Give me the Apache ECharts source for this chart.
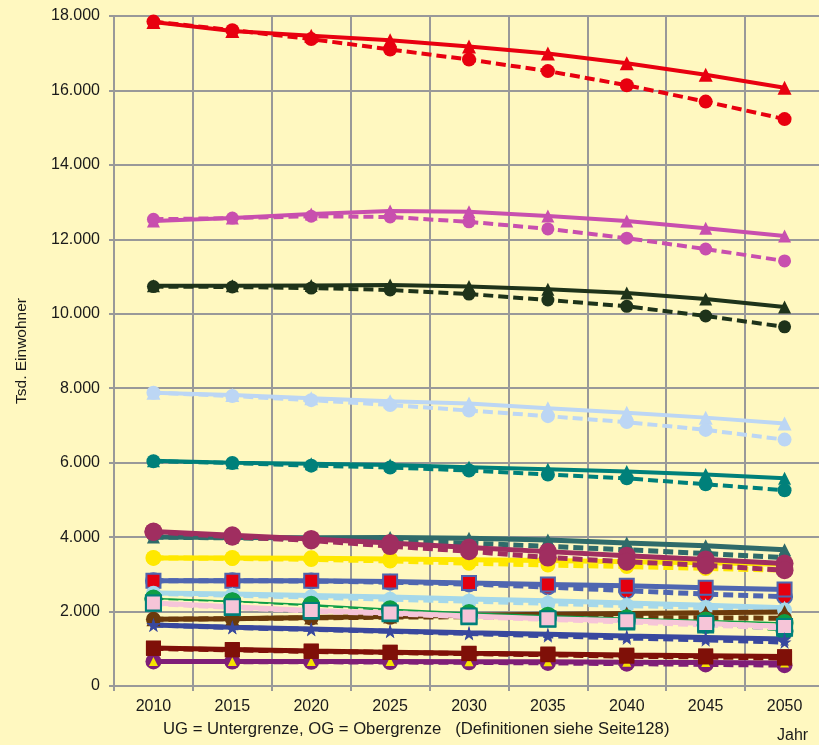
<!DOCTYPE html>
<html>
<head>
<meta charset="utf-8">
<script src="https://cdn.jsdelivr.net/npm/echarts@6/dist/echarts.min.js"></script>
<style>
  html, body { margin: 0; padding: 0; overflow: hidden; background: #FFF8C0; }
  #chart { width: 824px; height: 745px; }
</style>
</head>
<body>
<div id="chart"></div>
<script>
    // Jahre und Werte (Tsd. Einwohner), OG = Obergrenze, UG = Untergrenze
    var years = ['2010', '2015', '2020', '2025', '2030', '2035', '2040', '2045', '2050'];
    var yTicks = [0, 2000, 4000, 6000, 8000, 10000, 12000, 14000, 16000, 18000];

    var nwOG = [17840, 17600, 17470, 17350, 17180, 16990, 16730, 16420, 16070];
    var nwUG = [17850, 17620, 17380, 17100, 16830, 16520, 16140, 15700, 15230];
    var byOG = [12490, 12570, 12680, 12760, 12740, 12630, 12490, 12300, 12090];
    var byUG = [12540, 12570, 12620, 12600, 12470, 12280, 12030, 11740, 11420];
    var bwOG = [10750, 10750, 10760, 10770, 10730, 10660, 10560, 10400, 10180];
    var bwUG = [10730, 10720, 10690, 10640, 10530, 10370, 10200, 9940, 9650];
    var niOG = [7880, 7820, 7730, 7650, 7590, 7460, 7340, 7210, 7050];
    var niUG = [7880, 7790, 7680, 7550, 7400, 7250, 7090, 6880, 6620];
    var heOG = [6050, 6000, 5970, 5940, 5880, 5820, 5760, 5680, 5580];
    var heUG = [6040, 5990, 5920, 5870, 5790, 5680, 5580, 5420, 5260];
    var rpOG = [4000, 3990, 3980, 3990, 3970, 3920, 3840, 3770, 3660];
    var rpUG = [4000, 3980, 3950, 3900, 3840, 3750, 3660, 3560, 3450];
    var beOG = [3440, 3440, 3430, 3410, 3390, 3370, 3340, 3310, 3270];
    var beUG = [3440, 3430, 3400, 3360, 3300, 3250, 3210, 3160, 3110];
    var snOG = [4150, 4050, 3950, 3840, 3720, 3610, 3500, 3400, 3290];
    var snUG = [4140, 4010, 3910, 3760, 3620, 3450, 3340, 3240, 3110];
    var shOG = [2830, 2830, 2830, 2810, 2770, 2730, 2690, 2640, 2590];
    var shUG = [2830, 2830, 2820, 2790, 2740, 2660, 2560, 2470, 2400];
    var bbOG = [2500, 2470, 2430, 2390, 2340, 2290, 2230, 2170, 2100];
    var bbUG = [2490, 2440, 2390, 2330, 2280, 2220, 2160, 2110, 2040];
    var stOG = [2350, 2280, 2180, 2060, 1960, 1890, 1820, 1760, 1690];
    var stUG = [2340, 2270, 2160, 2030, 1920, 1830, 1740, 1640, 1480];
    var thOG = [2230, 2130, 2030, 1960, 1880, 1810, 1750, 1680, 1600];
    var thUG = [2220, 2110, 2010, 1940, 1860, 1790, 1720, 1640, 1550];
    var hhOG = [1790, 1810, 1840, 1870, 1900, 1930, 1950, 1970, 1990];
    var hhUG = [1790, 1810, 1830, 1850, 1860, 1850, 1840, 1830, 1820];
    var mvOG = [1640, 1580, 1530, 1480, 1430, 1390, 1340, 1300, 1260];
    var mvUG = [1640, 1570, 1520, 1470, 1410, 1350, 1290, 1240, 1180];
    var slOG = [1020, 980, 940, 910, 880, 860, 830, 810, 790];
    var slUG = [1010, 970, 930, 900, 870, 840, 800, 780, 750];
    var hbOG = [660, 660, 660, 660, 650, 650, 640, 630, 620];
    var hbUG = [660, 655, 650, 645, 635, 620, 600, 580, 560];

    var star = 'path://M50,0 L61,35 L98,35 L68,57 L79,91 L50,70 L21,91 L32,57 L2,35 L39,35 Z';

    function mkSeries(name, data, color, dashed, symbol, size, fill, border, width) {
        return {
            name: name,
            type: 'line',
            data: data,
            symbol: symbol,
            symbolSize: size,
            showAllSymbol: true,
            animation: false,
            lineStyle: {
                color: color,
                width: width || 4,
                type: dashed ? [10, 5] : 'solid'
            },
            itemStyle: {
                color: fill || color,
                borderColor: border || color,
                borderWidth: border ? 2 : 0
            }
        };
    }

    var series = [
        mkSeries('NW OG', nwOG, '#E8000F', false, 'triangle', 14),
        mkSeries('NW UG', nwUG, '#E8000F', true, 'circle', 14),
        mkSeries('BY OG', byOG, '#C84FAE', false, 'triangle', 13),
        mkSeries('BY UG', byUG, '#C84FAE', true, 'circle', 13),
        mkSeries('BW OG', bwOG, '#1E331A', false, 'triangle', 13),
        mkSeries('BW UG', bwUG, '#1E331A', true, 'circle', 13),
        mkSeries('NI OG', niOG, '#BCD6F4', false, 'triangle', 14),
        mkSeries('NI UG', niUG, '#BCD6F4', true, 'circle', 14),
        mkSeries('HE OG', heOG, '#00807A', false, 'triangle', 13),
        mkSeries('HE UG', heUG, '#00807A', true, 'circle', 14),
        mkSeries('RP OG', rpOG, '#2F6B6A', false, 'triangle', 13, null, null, 5),
        mkSeries('RP UG', rpUG, '#2F6B6A', true, 'circle', 12, null, null, 5),
        mkSeries('BE OG', beOG, '#FFE800', false, 'circle', 16, null, null, 5),
        mkSeries('BE UG', beUG, '#FFE800', true, 'circle', 15, null, null, 5),
        mkSeries('SN OG', snOG, '#A02E60', false, 'circle', 18, null, null, 5),
        mkSeries('SN UG', snUG, '#A02E60', true, 'circle', 18, null, null, 5),
        mkSeries('SH UG', shUG, '#4F66B0', true, 'circle', 15, '#E3000F', '#4F66B0', 5),
        mkSeries('SH OG', shOG, '#4F66B0', false, 'rect', 14, '#E3000F', '#4F66B0', 5),
        mkSeries('BB OG', bbOG, '#A5D8EA', false, 'triangle', 14, null, null, 5),
        mkSeries('BB UG', bbUG, '#A5D8EA', true, 'circle', 15, null, null, 5),
        mkSeries('HH OG', hhOG, '#6B3A0C', false, 'triangle', 14, null, null, 5),
        mkSeries('HH UG', hhUG, '#6B3A0C', true, 'circle', 15, null, null, 5),
        mkSeries('ST UG', stUG, '#0E9E45', true, 'circle', 16, '#0E9E45', '#008272', 1.5),
        mkSeries('ST OG', stOG, '#0E9E45', false, 'circle', 16, '#0E9E45', '#0E9E45', 1.5),
        mkSeries('TH UG', thUG, '#F6C5D8', true, 'rect', 15, '#F6C5D8', '#00807A', 5),
        mkSeries('TH OG', thOG, '#F6C5D8', false, 'rect', 15, '#F6C5D8', '#00807A', 5),
        mkSeries('MV UG', mvUG, '#39489E', true, star, 14, null, null, 5),
        mkSeries('MV OG', mvOG, '#39489E', false, star, 14, null, null, 5),
        mkSeries('HB UG', hbUG, '#7F1E78', true, 'circle', 16, null, null, 5),
        mkSeries('HB OG', hbOG, '#7F1E78', false, 'triangle', 9, '#F5E300', null, 5),
        mkSeries('SL UG', slUG, '#7F1008', true, 'rect', 15, null, null, 5),
        mkSeries('SL OG', slOG, '#7F1008', false, 'rect', 15, null, null, 5)
    ];

    var chart = echarts.init(document.getElementById('chart'));
    var option = {
        backgroundColor: '#FFF8C0',
        textStyle: { fontFamily: 'Liberation Sans' },
        grid: { left: 114, right: 0, top: 16, bottom: 59 },
        xAxis: {
            type: 'category',
            data: years,
            boundaryGap: true,
            axisLine: { lineStyle: { color: '#999999', width: 2 } },
            axisTick: { show: true, length: 5, lineStyle: { color: '#999999', width: 2 } },
            axisLabel: { color: '#1a1a1a', fontSize: 16, margin: 13 },
            splitLine: { show: true, lineStyle: { color: '#999999', width: 2 } }
        },
        yAxis: {
            type: 'value',
            min: yTicks[0],
            max: yTicks[yTicks.length - 1],
            interval: 2000,
            name: 'Tsd. Einwohner',
            nameLocation: 'middle',
            nameRotate: 90,
            nameGap: 84,
            nameTextStyle: { color: '#1a1a1a', fontSize: 15.5 },
            axisLine: { show: true, lineStyle: { color: '#999999', width: 2 } },
            axisTick: { show: true, length: 5, lineStyle: { color: '#999999', width: 2 } },
            axisLabel: {
                color: '#1a1a1a',
                fontSize: 16,
                margin: 14,
                formatter: function (v) {
                    return v === 0 ? '0' : (v / 1000) + '.000';
                }
            },
            splitLine: { show: true, lineStyle: { color: '#999999', width: 2 } }
        },
        graphic: [
            {
                type: 'text', left: 163, top: 721,
                style: { text: 'UG = Untergrenze, OG = Obergrenze   (Definitionen siehe Seite128)', fill: '#1a1a1a', fontSize: 16.7, fontFamily: 'Liberation Sans' }
            },
            {
                type: 'text', left: 777, top: 728,
                style: { text: 'Jahr', fill: '#1a1a1a', fontSize: 16, fontFamily: 'Liberation Sans' }
            }
        ],
        series: series
    };
    chart.setOption(option);
</script>
</body>
</html>
